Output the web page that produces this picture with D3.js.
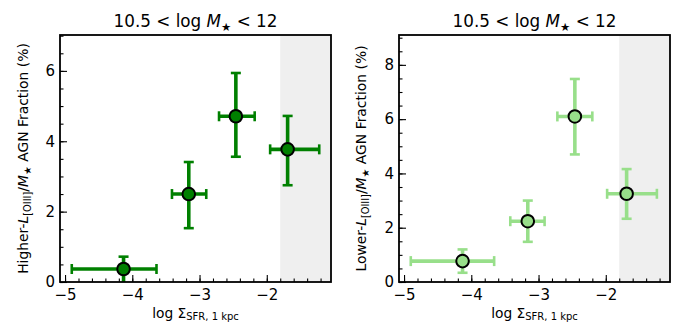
<!DOCTYPE html>
<html><head><meta charset="utf-8">
<script src="https://cdn.jsdelivr.net/npm/d3@7"></script>
<style>
body{margin:0;background:#fff;}
text{font-family:"DejaVu Sans",sans-serif;fill:#000;}
</style></head>
<body><svg id="c" width="679" height="322"></svg>
<script>
// Data
const xCenters = [-4.13, -3.16, -2.46, -1.69];
const hiY   = [0.37, 2.50, 4.71, 3.77];
const hiYlo = [0.00, 1.53, 3.56, 2.75];
const hiYhi = [0.72, 3.41, 5.94, 4.72];
const hiXlo = [-4.90, -3.41, -2.71, -1.95];
const hiXhi = [-3.64, -2.90, -2.18, -1.22];
const loY   = [0.77, 2.24, 6.10, 3.25];
const loYlo = [0.34, 1.48, 4.70, 2.33];
const loYhi = [1.20, 3.00, 7.48, 4.16];
const loXlo = [-4.90, -3.42, -2.72, -1.98];
const loXhi = [-3.66, -2.91, -2.20, -1.24];
const xTicks = [-5, -4, -3, -2];
const hiYTicks = [0, 2, 4, 6];
const loYTicks = [0, 2, 4, 6, 8];
const shadeStart = -1.8;

const svg = d3.select("#c");

function panel(opts){
  const {x0, x1, y0, y1, ymax, yTicks, cy, cylo, cyhi, cxlo, cxhi, color, prefix, ylx} = opts;
  const x = d3.scaleLinear().domain([-5.075, -1.045]).range([x0, x1]);
  const y = d3.scaleLinear().domain([0, ymax]).range([y1, y0]);
  const g = svg.append("g");
  const cid = "clip" + prefix;
  svg.append("clipPath").attr("id", cid).append("rect")
    .attr("x", x0).attr("y", y0).attr("width", x1 - x0).attr("height", y1 - y0);
  const pg = g.append("g").attr("clip-path", `url(#${cid})`);
  pg.append("rect").attr("x", x(shadeStart)).attr("y", y0)
    .attr("width", x1 - x(shadeStart)).attr("height", y1 - y0).attr("fill", "#efefef");
  const data = xCenters.map((d, i) => ({x: d, y: cy[i], ylo: cylo[i], yhi: cyhi[i], xlo: cxlo[i], xhi: cxhi[i]}));
  const cap = 5;
  data.forEach(d => {
    const e = pg.append("g").attr("stroke", color).attr("stroke-width", 3.6).attr("fill", "none");
    e.append("line").attr("x1", x(d.xlo)).attr("x2", x(d.xhi)).attr("y1", y(d.y)).attr("y2", y(d.y));
    e.append("line").attr("x1", x(d.x)).attr("x2", x(d.x)).attr("y1", y(d.ylo)).attr("y2", y(d.yhi));
    e.append("line").attr("x1", x(d.xlo)).attr("x2", x(d.xlo)).attr("y1", y(d.y) - cap).attr("y2", y(d.y) + cap).attr("stroke-width", 2.6);
    e.append("line").attr("x1", x(d.xhi)).attr("x2", x(d.xhi)).attr("y1", y(d.y) - cap).attr("y2", y(d.y) + cap).attr("stroke-width", 2.6);
    e.append("line").attr("x1", x(d.x) - cap).attr("x2", x(d.x) + cap).attr("y1", y(d.yhi)).attr("y2", y(d.yhi)).attr("stroke-width", 2.6);
    if (d.ylo > 0) e.append("line").attr("x1", x(d.x) - cap).attr("x2", x(d.x) + cap).attr("y1", y(d.ylo)).attr("y2", y(d.ylo)).attr("stroke-width", 2.6);
  });
  pg.selectAll("circle.m").data(data).join("circle").attr("class", "m")
    .attr("cx", d => x(d.x)).attr("cy", d => y(d.y)).attr("r", 6.3)
    .attr("fill", color).attr("stroke", "#000").attr("stroke-width", 2);

  const xMinor = d3.range(-5, -1.0, 0.2).map(v => +v.toFixed(2));
  const yMinor = d3.range(0, ymax, 0.5);
  const ax = g.append("g").attr("transform", `translate(0,${y1})`)
    .call(d3.axisBottom(x).tickValues(xMinor).tickSize(-3.5).tickFormat(""));
  ax.select(".domain").remove();
  const axM = g.append("g").attr("transform", `translate(0,${y1})`)
    .call(d3.axisBottom(x).tickValues(xTicks).tickSize(-7).tickPadding(7).tickFormat(d => "\u2212" + Math.abs(d)));
  axM.select(".domain").remove();
  axM.selectAll("text").attr("font-size", 15).attr("font-family", "DejaVu Sans");
  const ay = g.append("g").attr("transform", `translate(${x0},0)`)
    .call(d3.axisLeft(y).tickValues(yMinor).tickSize(-3.5).tickFormat(""));
  ay.select(".domain").remove();
  const ayM = g.append("g").attr("transform", `translate(${x0},0)`)
    .call(d3.axisLeft(y).tickValues(yTicks).tickSize(-7).tickPadding(5).tickFormat(d3.format("d")));
  ayM.select(".domain").remove();
  ayM.selectAll("text").attr("font-size", 15).attr("font-family", "DejaVu Sans");
  g.selectAll(".tick line").attr("stroke", "#000").attr("stroke-width", 1.1);
  g.append("rect").attr("x", x0).attr("y", y0).attr("width", x1 - x0).attr("height", y1 - y0)
    .attr("fill", "none").attr("stroke", "#000").attr("stroke-width", 1.8);

  const cx = (x0 + x1) / 2;
  const t = g.append("text").attr("x", cx).attr("y", 27).attr("text-anchor", "middle").attr("font-size", 16.8);
  t.append("tspan").text("10.5 < log ");
  t.append("tspan").attr("font-style", "italic").text("M");
  t.append("tspan").attr("font-size", 11.5).attr("dy", 3.5).text("\u2605");
  t.append("tspan").attr("dy", -3.5).text(" < 12");
  const xl = g.append("text").attr("x", cx).attr("y", 317.5).attr("text-anchor", "middle").attr("font-size", 13.8);
  xl.append("tspan").text("log \u03A3");
  xl.append("tspan").attr("font-size", 10).attr("dy", 2).text("SFR, 1 kpc");
  const yl = g.append("text").attr("transform", `translate(${ylx},${(y0 + y1) / 2}) rotate(-90)`)
    .attr("text-anchor", "middle").attr("font-size", 13.9);
  yl.append("tspan").text(prefix + "-");
  yl.append("tspan").attr("font-style", "italic").text("L");
  yl.append("tspan").attr("font-size", 9.8).attr("dy", 3).text("[OIII]");
  yl.append("tspan").attr("dy", -3).text("/");
  yl.append("tspan").attr("font-style", "italic").text("M");
  yl.append("tspan").attr("font-size", 9.8).attr("dy", 3).text("\u2605");
  yl.append("tspan").attr("dy", -3).text(" AGN Fraction (%)");
}

panel({x0: 60, x1: 331, y0: 35, y1: 282, ymax: 7.02, yTicks: hiYTicks, ylx: 28,
  cy: hiY, cylo: hiYlo, cyhi: hiYhi, cxlo: hiXlo, cxhi: hiXhi, color: "#008000", prefix: "Higher"});
panel({x0: 399, x1: 670, y0: 35, y1: 282, ymax: 9.1, yTicks: loYTicks, ylx: 366,
  cy: loY, cylo: loYlo, cyhi: loYhi, cxlo: loXlo, cxhi: loXhi, color: "#98df8a", prefix: "Lower"});
</script></body></html>
